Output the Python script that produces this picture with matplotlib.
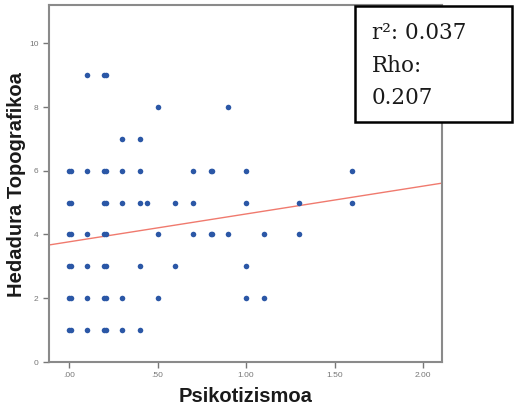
import numpy as np
import matplotlib
matplotlib.use("Agg")
import matplotlib.pyplot as plt
from matplotlib.patches import Rectangle

# Psikotizismoa (x) and Hedadura Topografikoa (y), read row by row
psiko = [0.10, 0.20, 0.21,
         0.50, 0.90,
         0.30, 0.40,
         0.00, 0.01, 0.10, 0.20, 0.21, 0.30, 0.40, 0.70, 0.80, 0.81, 1.00, 1.60,
         0.00, 0.01, 0.20, 0.21, 0.30, 0.40, 0.44, 0.60, 0.70, 1.00, 1.30, 1.60,
         0.00, 0.01, 0.10, 0.20, 0.21, 0.50, 0.70, 0.80, 0.81, 0.90, 1.10, 1.30,
         0.00, 0.01, 0.10, 0.20, 0.21, 0.40, 0.60, 1.00,
         0.00, 0.01, 0.10, 0.20, 0.21, 0.30, 0.50, 1.00, 1.10,
         0.00, 0.01, 0.10, 0.20, 0.21, 0.30, 0.40]
hedadura = [9, 9, 9,
            8, 8,
            7, 7,
            6, 6, 6, 6, 6, 6, 6, 6, 6, 6, 6, 6,
            5, 5, 5, 5, 5, 5, 5, 5, 5, 5, 5, 5,
            4, 4, 4, 4, 4, 4, 4, 4, 4, 4, 4, 4,
            3, 3, 3, 3, 3, 3, 3, 3,
            2, 2, 2, 2, 2, 2, 2, 2, 2,
            1, 1, 1, 1, 1, 1, 1]

# fit line
fit_intercept = 3.77
fit_slope = 0.874

xticks = [0, 0.5, 1.0, 1.5, 2.0]
xticklabels = [".00", ".50", "1.00", "1.50", "2.00"]
yticks = [0, 2, 4, 6, 8, 10]

stats_text = "r²: 0.037\nRho:\n0.207"

plt.rcParams["font.family"] = ["Liberation Sans", "DejaVu Sans"]

fig = plt.figure(figsize=(5.14, 4.11), dpi=100)
ax = fig.add_axes([49 / 514, 1 - 362 / 411, (442 - 49) / 514, (362 - 5) / 411])

ax.scatter(psiko, hedadura, s=16, color="#2b57a6", zorder=3, linewidths=0)
ax.axline((0, fit_intercept), slope=fit_slope, color="#f07a6e", lw=1.0, zorder=2)

ax.set_xlim(-0.113, 2.107)
ax.set_ylim(0, 11.2)
ax.set_xticks(xticks)
ax.set_xticklabels(xticklabels)
ax.set_yticks(yticks)

for s in ax.spines.values():
    s.set_color("#8a8a8a")
    s.set_linewidth(1.5)
ax.tick_params(colors="#777777", labelsize=6, length=4, width=1, direction="out")

ax.set_xlabel("Psikotizismoa", fontsize=14.5, fontweight="bold", color="#1a1a1a")
ax.set_ylabel("Hedadura Topografikoa", fontsize=14.5, fontweight="bold", color="#1a1a1a")
ax.xaxis.label.set(va="center", ha="center")
ax.yaxis.label.set(va="center", ha="center")
ax.xaxis.set_label_coords(0.5, -0.098)
ax.yaxis.set_label_coords(-0.083, 0.497)

# stats box in the top right corner
fig.patches.append(Rectangle((355 / 514, 1 - 122 / 411), (512 - 355) / 514, (122 - 6) / 411,
                             transform=fig.transFigure, facecolor="white",
                             edgecolor="black", lw=1.8, zorder=5))
fig.text(372 / 514, 1 - 22 / 411, stats_text, fontsize=15.5, family="DejaVu Serif",
         va="top", ha="left", linespacing=1.62, color="#1a1a1a", zorder=6)

fig.savefig("out.png", dpi=100)
